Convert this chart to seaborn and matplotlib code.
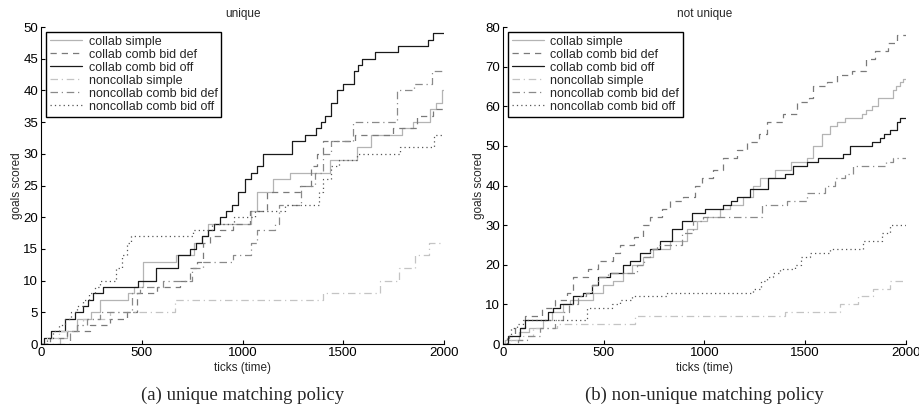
import matplotlib
matplotlib.use("Agg")
import matplotlib.pyplot as plt
import seaborn as sns

# series names shown in the legend
labels = ["collab simple", "collab comb bid def", "collab comb bid off",
          "noncollab simple", "noncollab comb bid def", "noncollab comb bid off"]

# ---- panel (a): unique (tick where the step starts, goals from then on)
cs_u_x = [0, 95, 130, 180, 250, 293, 430, 460, 507, 670, 760, 800, 830, 1040, 1070, 1150, 1235, 1435, 1570, 1640, 1790, 1848, 1930, 1960, 1990, 2000]
cs_u_y = [0, 1, 2, 4, 5, 7, 8, 9, 13, 14, 16, 17, 19, 21, 24, 26, 27, 29, 31, 33, 34, 35, 37, 38, 40, 40]
cd_u_x = [0, 45, 127, 243, 342, 425, 475, 574, 690, 740, 773, 806, 840, 888, 955, 1037, 1120, 1285, 1340, 1370, 1400, 1558, 1748, 1864, 1947, 2000]
cd_u_y = [0, 1, 2, 3, 4, 5, 8, 9, 10, 12, 13, 16, 17, 18, 19, 21, 24, 25, 28, 30, 32, 33, 34, 36, 37, 37]
co_u_x = [0, 15, 50, 117, 170, 210, 235, 258, 310, 482, 572, 680, 740, 770, 800, 830, 860, 890, 920, 950,
          980, 1010, 1040, 1070, 1100, 1244, 1310, 1365, 1390, 1410, 1440, 1470, 1500, 1555, 1575, 1592, 1660, 1770, 1920, 1944, 2000]
co_u_y = [0, 1, 2, 4, 5, 6, 7, 8, 9, 10, 12, 14, 15, 16, 17, 18, 19, 20, 21, 22,
          24, 26, 27, 28, 30, 32, 33, 34, 35, 36, 38, 40, 41, 43, 44, 45, 46, 47, 48, 49, 49]
ns_u_x = [0, 30, 90, 177, 210, 342, 663, 1400, 1680, 1775, 1855, 1925, 2000]
ns_u_y = [0, 1, 2, 3, 4, 5, 7, 8, 10, 12, 14, 16, 16]
nd_u_x = [0, 144, 177, 226, 293, 450, 491, 607, 748, 806, 955, 1040, 1070, 1160, 1180, 1290, 1360, 1400, 1440, 1550, 1765, 1850, 1940, 2000]
nd_u_y = [0, 2, 3, 4, 5, 8, 9, 10, 12, 13, 14, 16, 18, 19, 22, 25, 27, 30, 32, 35, 40, 41, 43, 43]
no_u_x = [0, 30, 60, 90, 120, 150, 180, 210, 240, 270, 291, 370, 400, 425, 448, 756, 850, 960, 1060, 1211, 1380, 1400, 1440, 1480, 1567, 1780, 1950, 2000]
no_u_y = [0, 1, 2, 3, 4, 5, 6, 7, 8, 9, 10, 12, 14, 16, 17, 18, 19, 20, 21, 22, 24, 26, 28, 29, 30, 31, 33, 33]

# ---- panel (b): not unique
cs_n_x = [0, 10, 78, 127, 200, 242, 300, 333, 448, 498, 548, 597, 638, 697, 746, 829, 911, 961, 1011, 1077,
          1127, 1193, 1240, 1275, 1350, 1430, 1507, 1540, 1581, 1625, 1656, 1697, 1780, 1800, 1830, 1863, 1935, 1950, 1970, 1985, 2000]
cs_n_y = [0, 1, 3, 4, 6, 8, 10, 11, 13, 15, 16, 18, 20, 22, 24, 26, 29, 31, 32, 34,
          35, 37, 40, 42, 44, 46, 47, 50, 53, 55, 56, 57, 58, 59, 60, 62, 64, 65, 66, 67, 67]
cd_n_x = [0, 30, 60, 109, 193, 260, 316, 348, 424, 473, 548, 581, 650, 696, 729, 790, 829, 893, 953, 990,
          1040, 1093, 1160, 1209, 1270, 1309, 1390, 1457, 1520, 1540, 1610, 1656, 1730, 1800, 1846, 1911, 1954, 2000]
cd_n_y = [0, 2, 4, 7, 9, 11, 13, 17, 19, 21, 23, 25, 27, 30, 32, 34, 36, 37, 40, 42,
          44, 47, 49, 51, 53, 56, 58, 61, 62, 65, 66, 68, 69, 72, 74, 76, 78, 78]
co_n_x = [0, 26, 85, 109, 225, 250, 283, 348, 397, 440, 473, 531, 597, 630, 680, 730, 779, 837, 887, 936,
          1003, 1093, 1130, 1160, 1226, 1317, 1400, 1440, 1510, 1564, 1690, 1722, 1830, 1870, 1890, 1920, 1955, 1970, 2000]
co_n_y = [0, 2, 4, 6, 8, 9, 10, 12, 13, 15, 17, 18, 20, 21, 23, 24, 26, 29, 31, 33,
          34, 35, 36, 37, 39, 42, 43, 45, 46, 47, 48, 50, 51, 52, 53, 54, 56, 57, 57]
ns_n_x = [0, 40, 100, 150, 266, 655, 1400, 1673, 1763, 1838, 1920, 2000]
ns_n_y = [0, 1, 2, 4, 5, 7, 8, 10, 12, 14, 16, 16]
nd_n_x = [0, 75, 120, 182, 260, 300, 330, 370, 410, 440, 470, 520, 663, 700, 730, 763, 887, 944, 993, 1284,
          1408, 1507, 1600, 1648, 1700, 1738, 1900, 1937, 2000]
nd_n_y = [0, 1, 2, 4, 6, 8, 10, 12, 13, 15, 17, 18, 20, 22, 24, 25, 28, 31, 32, 35,
          36, 38, 40, 42, 43, 45, 46, 47, 47]
no_n_x = [0, 20, 40, 70, 100, 415, 540, 580, 640, 812, 1242, 1280, 1310, 1340, 1375, 1450, 1480, 1524, 1623, 1788, 1880, 1920, 2000]
no_n_y = [0, 2, 4, 5, 6, 9, 10, 11, 12, 13, 14, 16, 17, 18, 19, 20, 22, 23, 24, 26, 28, 30, 30]

# styles: colour, dash pattern
colors = ["#b4b4b4", "#7a7a7a", "#1a1a1a", "#c4c4c4", "#8a8a8a", "#555555"]
dashes = ["-", (0, (5, 4)), "-", (0, (6, 3, 1, 3)), (0, (6, 3, 1, 3)), (0, (1, 2.5))]

sns.set_style("ticks")
plt.rcParams["font.family"] = ["Liberation Sans", "DejaVu Sans"]
plt.rcParams["xtick.direction"] = "in"
plt.rcParams["ytick.direction"] = "in"

fig = plt.figure(figsize=(9.2, 4.13), dpi=100)
ax1 = fig.add_axes([0.0446, 0.167, 0.438, 0.7676])
ax2 = fig.add_axes([0.5467, 0.167, 0.438, 0.7676])

panels = [
    (ax1, "unique", 50, 5, "(a) unique matching policy",
     [(cs_u_x, cs_u_y), (cd_u_x, cd_u_y), (co_u_x, co_u_y), (ns_u_x, ns_u_y), (nd_u_x, nd_u_y), (no_u_x, no_u_y)]),
    (ax2, "not unique", 80, 10, "(b) non-unique matching policy",
     [(cs_n_x, cs_n_y), (cd_n_x, cd_n_y), (co_n_x, co_n_y), (ns_n_x, ns_n_y), (nd_n_x, nd_n_y), (no_n_x, no_n_y)]),
]

for ax, title, ymax, ystep, caption, series in panels:
    for (xs, ys), lab, c, ls in zip(series, labels, colors, dashes):
        sns.lineplot(x=xs, y=ys, ax=ax, color=c, linestyle=ls, linewidth=0.9,
                     drawstyle="steps-post", label=lab, estimator=None, sort=False)
    ax.set_xlim(0, 2000)
    ax.set_ylim(0, ymax)
    ax.set_xticks([0, 500, 1000, 1500, 2000])
    ax.set_yticks(range(0, ymax + 1, ystep))
    ax.tick_params(labelsize=9.5, length=3, width=0.8, pad=2, colors="black")
    for s in ["top", "right"]:
        ax.spines[s].set_visible(False)
    for s in ["left", "bottom"]:
        ax.spines[s].set_linewidth(0.8)
        ax.spines[s].set_color("black")
    ax.set_title(title, fontsize=8.5, pad=7)
    ax.set_xlabel("ticks (time)", fontsize=8.5, labelpad=2)
    ax.set_ylabel("goals scored", fontsize=8.5, labelpad=0)
    leg = ax.legend(loc="upper left", fontsize=9, fancybox=False, framealpha=1,
                    edgecolor="black", handlelength=2.6, handletextpad=0.5,
                    labelspacing=0.08, borderaxespad=0.4, borderpad=0.3)
    leg.get_frame().set_linewidth(1.0)
    ax.text(0.5, -0.162, caption, transform=ax.transAxes, ha="center", va="center",
            fontsize=13.5, family=["Liberation Serif", "DejaVu Serif"])

fig.savefig("out.png", dpi=100)
